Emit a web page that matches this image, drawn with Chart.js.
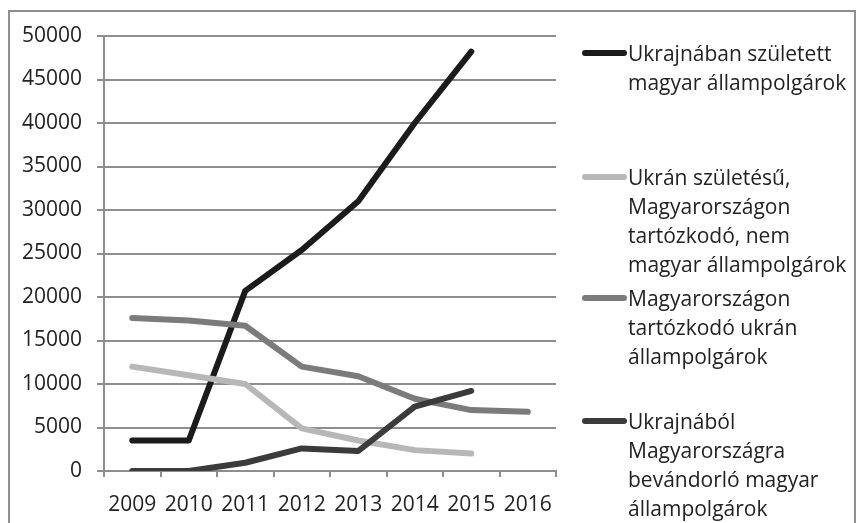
<!DOCTYPE html>
<html>
<head>
<meta charset="utf-8">
<script src="https://cdn.jsdelivr.net/npm/chart.js@4.4.1/dist/chart.umd.min.js"></script>
<style>
  html, body { margin: 0; padding: 0; background: #fff; }
  #wrap { position: relative; width: 859px; height: 523px; }
  #frame {
    position: absolute; left: 8px; top: 10px; width: 848px; height: 520px;
    border: 2px solid #8e8e8e; box-sizing: border-box;
  }
  canvas { position: absolute; left: 0; top: 0; }
</style>
</head>
<body>
<div id="wrap">
  <div id="frame"></div>
  <canvas id="chart" width="859" height="523"></canvas>
</div>
<script>
// Data
const years = ['2009', '2010', '2011', '2012', '2013', '2014', '2015', '2016'];

const bornInUkraineHu = [3500, 3500, 20700, 25400, 31000, 40000, 48200, null];
const bornInUkraineNonHu = [12000, 11000, 10000, 4900, 3500, 2400, 2000, null];
const ukrainianCitizens = [17600, 17300, 16700, 12000, 10900, 8300, 7000, 6800];
const immigrantsHu = [0, 0, 950, 2600, 2300, 7400, 9200, null];

const seriesLines = [
  ['Ukrajnában született', 'magyar állampolgárok'],
  ['Ukrán születésű,', 'Magyarországon', 'tartózkodó, nem', 'magyar állampolgárok'],
  ['Magyarországon', 'tartózkodó ukrán', 'állampolgárok'],
  ['Ukrajnából', 'Magyarországra', 'bevándorló magyar', 'állampolgárok']
];
const seriesColors = ['#1b1b1b', '#b7b7b7', '#7b7b7b', '#3b3b3b'];

const yTicks = [0, 5000, 10000, 15000, 20000, 25000, 30000, 35000, 40000, 45000, 50000];

const FONT = '"Open Sans", sans-serif';
const gridColor = '#8e8e8e';

// legend drawn to the right, first-line centre of each entry
const legendTops = [53, 177, 298, 421];

const sideLegend = {
  id: 'sideLegend',
  afterDraw(chart) {
    const ctx = chart.ctx;
    ctx.save();
    ctx.font = '21px ' + FONT;
    ctx.textBaseline = 'middle';
    ctx.fillStyle = '#222';
    chart.data.datasets.forEach((ds, i) => {
      const y = legendTops[i];
      ctx.strokeStyle = ds.borderColor;
      ctx.lineWidth = 6;
      ctx.lineCap = 'round';
      ctx.beginPath();
      ctx.moveTo(585, y);
      ctx.lineTo(624, y);
      ctx.stroke();
      seriesLines[i].forEach((t, j) => {
        ctx.fillText(t, 628, y + 2 + j * 29);
      });
    });
    ctx.restore();
  }
};

function makeSet(i, data) {
  return {
    label: seriesLines[i].join(' '),
    data: data,
    borderColor: seriesColors[i],
    backgroundColor: seriesColors[i],
    borderWidth: 6,
    borderCapStyle: 'round',
    borderJoinStyle: 'round',
    pointRadius: 0,
    tension: 0,
    spanGaps: false,
    order: 4 - i
  };
}

new Chart(document.getElementById('chart'), {
  type: 'line',
  data: {
    labels: years,
    datasets: [
      makeSet(0, bornInUkraineHu),
      makeSet(1, bornInUkraineNonHu),
      makeSet(2, ukrainianCitizens),
      makeSet(3, immigrantsHu)
    ]
  },
  options: {
    responsive: false,
    animation: false,
    layout: { padding: { left: 0, right: 303, top: 36, bottom: 0 } },
    plugins: { legend: { display: false }, tooltip: { enabled: false } },
    scales: {
      x: {
        offset: true,
        grid: { offset: true, drawOnChartArea: false, drawTicks: true, tickLength: 6, color: gridColor, lineWidth: 2 },
        border: { display: true, color: gridColor, width: 2 },
        ticks: { color: '#222', font: { family: FONT, size: 21 }, padding: 15, maxRotation: 0, autoSkip: false },
        afterFit(s) { s.height = 52; }
      },
      y: {
        min: 0,
        max: 50000,
        afterBuildTicks(s) { s.ticks = yTicks.map(v => ({ value: v })); },
        grid: { color: gridColor, lineWidth: 2, tickLength: 7 },
        border: { display: true, color: gridColor, width: 2 },
        ticks: { color: '#222', font: { family: FONT, size: 21 }, padding: 15, callback: v => String(v) },
        afterFit(s) { s.width = 104; }
      }
    }
  },
  plugins: [sideLegend]
});
</script>
</body>
</html>
